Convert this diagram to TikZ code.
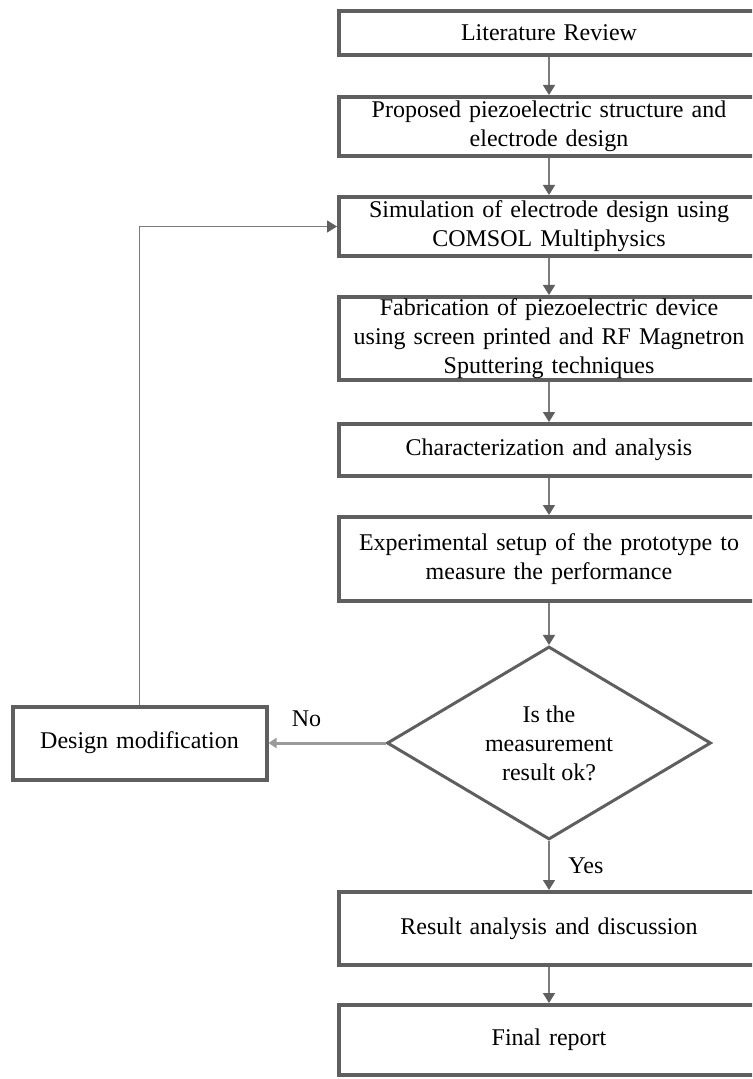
\documentclass[tikz,border=0pt]{standalone}
\usepackage{fontspec}
\setmainfont{Liberation Serif}
\usetikzlibrary{positioning,shapes.geometric,arrows.meta}
\definecolor{boxgray}{HTML}{5F5F5F}
\definecolor{arrowgray}{HTML}{7C7C7C}
\definecolor{nogray}{HTML}{9A9A9A}

\begin{document}
\begin{tikzpicture}[x=0.5pt, y=-0.5pt, node distance=18.5pt,
    stepbox/.style={rectangle, draw=boxgray, line width=2pt, minimum width=210pt, text width=204pt, align=center, inner xsep=1pt, inner ysep=0pt, font=\fontsize{12}{14.5}\selectfont},
    decision/.style={diamond, aspect=1.7, draw=boxgray, line width=1.5pt, minimum width=162pt, minimum height=96.5pt, inner sep=0pt, align=center, font=\fontsize{12}{14.5}\selectfont},
    flow/.style={draw=arrowgray, line width=0.75pt, -{Triangle[length=5pt,width=6pt,color=boxgray]}},
    noflow/.style={draw=nogray, line width=1.5pt, -{Triangle[length=4pt,width=5pt]}},
    lbl/.style={font=\fontsize{12}{14.5}\selectfont}]
    \useasboundingbox (0,0) rectangle (752,1079);
    \clip (0,0) rectangle (752,1079);
        % Nodes
    \node (lit) [stepbox, minimum height=22pt] at (549,33) {Literature Review};
    \node (prop) [stepbox, minimum height=29.5pt, below=19pt of lit] {Proposed piezoelectric structure and\\ electrode design};
    \node (sim) [stepbox, minimum height=29.5pt, below=of prop] {Simulation of electrode design using\\ COMSOL Multiphysics};
    \node (fab) [stepbox, minimum height=41.5pt, below=of sim] {Fabrication of piezoelectric device\\ using screen printed and RF Magnetron\\ Sputtering techniques};
    \node (char) [stepbox, minimum height=26pt, below=20pt of fab] {Characterization and analysis};
    \node (exp) [stepbox, minimum height=42pt, below=of char] {Experimental setup of the prototype to\\ measure the performance};
    \node (dec) [decision, below=21pt of exp] {Is the\\ measurement\\ result ok?};
    \node (mod) [stepbox, minimum width=127pt, text width=122pt, minimum height=36.5pt, left=58.5pt of dec] {Design modification};
    \node (res) [stepbox, minimum height=36.5pt, below=24.5pt of dec] {Result analysis and discussion};
    \node (fin) [stepbox, minimum height=35pt, below=18pt of res] {Final report};

    % Arrows
    \draw[flow] (lit) -- (prop);
    \draw[flow] (prop) -- (sim);
    \draw[flow] (sim) -- (fab);
    \draw[flow] (fab) -- (char);
    \draw[flow] (char) -- (exp);
    \draw[flow] (exp) -- (dec);
    \draw[noflow] (dec) -- (mod) node[pos=0.675, above=4pt, lbl, text=black] {No};
    \draw[flow] (dec) -- (res) node[midway, right=6pt, lbl, text=black] {Yes};
    \draw[flow] (res) -- (fin);
    \draw[flow] (mod) |- (sim);
\end{tikzpicture}
\end{document}
